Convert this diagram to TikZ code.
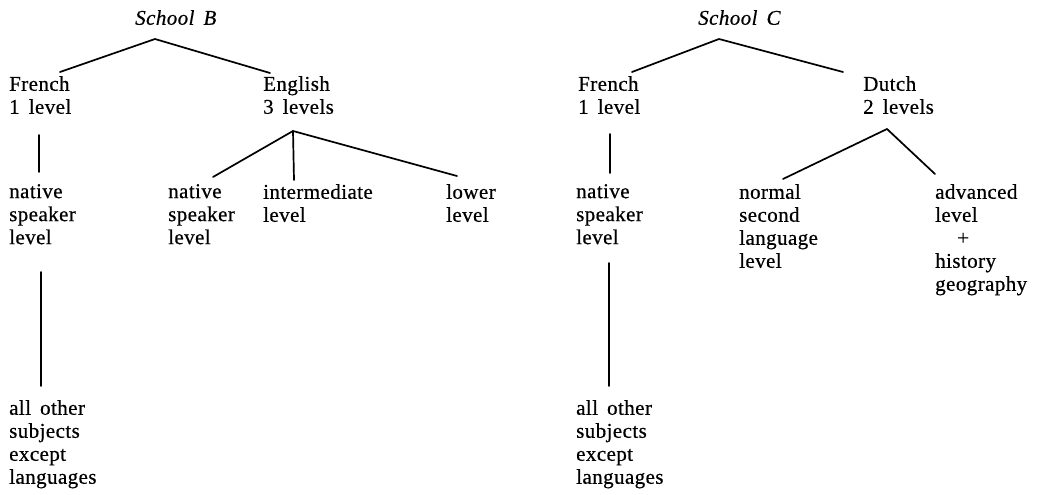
\documentclass[tikz,border=0pt]{standalone}
\usepackage{fontspec}
\setmainfont{Liberation Serif}[LetterSpace=2,WordSpace=1.6,FakeBold=0.5]
\begin{document}
\begin{tikzpicture}[x=1pt,y=-1pt,
  txt/.style={anchor=north west, inner sep=0pt, align=left, font=\fontsize{21}{23}\selectfont},
  ttl/.style={anchor=north west, inner sep=0pt, font=\fontsize{21}{23}\selectfont\itshape},
  branch/.style={line width=1.7pt, line cap=round}]
\useasboundingbox (0,0) rectangle (1037,495);
% School B
\node[ttl] (sB) at (135,10) {School B};
\node[txt] (frB) at (9,76) {French\\1 level};
\node[txt] (enB) at (263,76) {English\\3 levels};
\node[txt] (frBn) at (9,184) {native\\speaker\\level};
\node[txt] (enBn) at (168,184) {native\\speaker\\level};
\node[txt] (enBi) at (263,184) {intermediate\\level};
\node[txt] (enBl) at (446,184) {lower\\level};
\node[txt] (frBa) at (9,400) {all other\\subjects\\except\\languages};
% School C
\node[ttl] (sC) at (698,10) {School C};
\node[txt] (frC) at (578,76) {French\\1 level};
\node[txt] (duC) at (863,76) {Dutch\\2 levels};
\node[txt] (frCn) at (576,184) {native\\speaker\\level};
\node[txt] (duCn) at (739,184) {normal\\second\\language\\level};
\node[txt] (duCa) at (935,184) {advanced\\level\\\hspace*{22pt}+\\history\\geography};
\node[txt] (frCa) at (576,400) {all other\\subjects\\except\\languages};
% connector end points
\coordinate (aB) at (155,39);
\coordinate (aBl) at (60,72);
\coordinate (aBr) at (270,73);
\coordinate (fBt) at (39,135);
\coordinate (fBb) at (39,172);
\coordinate (eA) at (293,131);
\coordinate (eL) at (213,177);
\coordinate (eM) at (294,180);
\coordinate (eR) at (457,176);
\coordinate (gBt) at (41,272);
\coordinate (gBb) at (41,386);
\coordinate (aC) at (719,39);
\coordinate (aCl) at (632,72);
\coordinate (aCr) at (843,72);
\coordinate (fCt) at (610,134);
\coordinate (fCb) at (610,173);
\coordinate (dA) at (887,129);
\coordinate (dL) at (783,179);
\coordinate (dR) at (935,174);
\coordinate (gCt) at (609,263);
\coordinate (gCb) at (609,386);
% connectors
\draw[branch] (aBl) -- (aB) -- (aBr);
\draw[branch] (fBt) -- (fBb);
\draw[branch] (eL) -- (eA) -- (eR);
\draw[branch] (eA) -- (eM);
\draw[branch] (gBt) -- (gBb);
\draw[branch] (aCl) -- (aC) -- (aCr);
\draw[branch] (fCt) -- (fCb);
\draw[branch] (dL) -- (dA) -- (dR);
\draw[branch] (gCt) -- (gCb);
\end{tikzpicture}
\end{document}
